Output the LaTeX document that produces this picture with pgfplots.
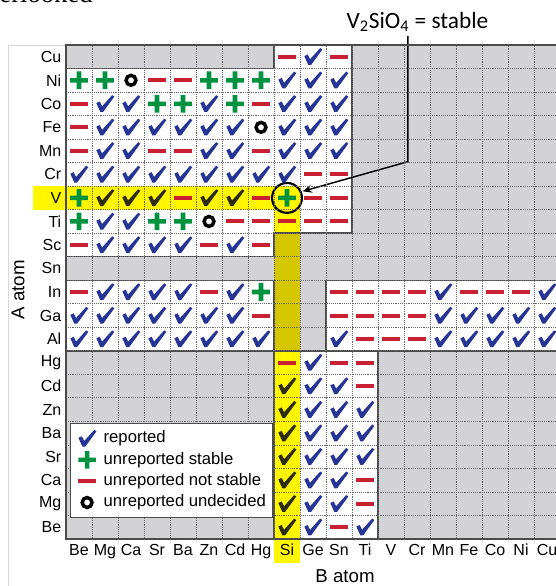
\documentclass[border=0pt]{standalone}
\usepackage{pgfplots}
\usepackage{pgfplotstable}
\pgfplotsset{compat=1.18}
\usepackage{fontspec}
\setmainfont{Liberation Sans}
\newfontfamily\carlito{Carlito}
\newfontfamily\timesfont{Liberation Serif}
\usetikzlibrary{arrows.meta}

\definecolor{cellgray}{RGB}{211,211,213}
\definecolor{bordergray}{RGB}{75,75,75}
\definecolor{gridgray}{RGB}{105,105,105}
\definecolor{framegray}{RGB}{215,215,215}
\definecolor{chkblue}{RGB}{38,52,150}
\definecolor{chkdark}{RGB}{45,45,10}
\definecolor{plgreen}{RGB}{0,146,62}
\definecolor{mnred}{RGB}{202,32,52}
\definecolor{hlyellow}{RGB}{255,246,0}
\definecolor{hlolive}{RGB}{212,199,0}

\pgfdeclareplotmark{chk}{%
  \pgfpathmoveto{\pgfqpoint{-6.5pt}{0.5pt}}%
  \pgfpathlineto{\pgfqpoint{-4.0pt}{1.7pt}}%
  \pgfpathlineto{\pgfqpoint{-2.2pt}{-1.9pt}}%
  \pgfpathlineto{\pgfqpoint{5.4pt}{6.5pt}}%
  \pgfpathlineto{\pgfqpoint{7.0pt}{5.4pt}}%
  \pgfpathlineto{\pgfqpoint{-1.4pt}{-6.1pt}}%
  \pgfpathlineto{\pgfqpoint{-3.5pt}{-6.1pt}}%
  \pgfpathclose
  \pgfusepathqfill}
\pgfdeclareplotmark{pls}{%
  \pgfpathrectangle{\pgfqpoint{-6.6pt}{-1.7pt}}{\pgfqpoint{13.2pt}{3.4pt}}%
  \pgfpathrectangle{\pgfqpoint{-1.7pt}{-6.6pt}}{\pgfqpoint{3.4pt}{13.2pt}}%
  \pgfusepathqfill}
\pgfdeclareplotmark{mns}{%
  \pgfpathrectangle{\pgfqpoint{-6.75pt}{-1.5pt}}{\pgfqpoint{13.5pt}{3.0pt}}%
  \pgfusepathqfill}
\pgfdeclareplotmark{rng}{%
  \pgfsetlinewidth{2.6pt}%
  \pgfpathcircle{\pgfpointorigin}{3.7pt}%
  \pgfusepathqstroke}

% reported (blue check)
\pgfplotstableread{
x y
9 20
8 19
9 19
10 19
1 18
2 18
5 18
8 18
9 18
10 18
1 17
2 17
3 17
4 17
5 17
6 17
8 17
9 17
10 17
1 16
2 16
5 16
6 16
8 16
9 16
10 16
0 15
1 15
2 15
3 15
4 15
5 15
6 15
7 15
8 15
1 13
2 13
1 12
2 12
3 12
4 12
6 12
1 10
2 10
3 10
4 10
6 10
14 10
18 10
0 9
1 9
2 9
3 9
4 9
5 9
6 9
14 9
15 9
16 9
17 9
18 9
0 8
1 8
2 8
3 8
4 8
5 8
6 8
7 8
10 8
14 8
15 8
16 8
17 8
18 8
9 7
9 6
10 6
9 5
10 5
11 5
9 4
10 4
11 4
9 3
10 3
11 3
9 2
10 2
9 1
10 1
9 0
11 0
}\reported

% reported, inside the yellow highlight
\pgfplotstableread{
x y
1 14
2 14
3 14
5 14
6 14
8 6
8 5
8 4
8 3
8 2
8 1
8 0
}\reportedhl

% unreported stable
\pgfplotstableread{
x y
0 19
1 19
5 19
6 19
7 19
3 18
4 18
6 18
0 14
8 14
0 13
3 13
4 13
7 10
}\stable

% unreported not stable
\pgfplotstableread{
x y
8 20
10 20
3 19
4 19
0 18
7 18
0 17
0 16
3 16
4 16
7 16
9 15
10 15
4 14
7 14
9 14
10 14
6 13
7 13
8 13
9 13
10 13
0 12
5 12
7 12
0 10
5 10
10 10
11 10
12 10
13 10
15 10
16 10
17 10
7 9
10 9
11 9
12 9
13 9
11 8
12 8
13 8
8 7
10 7
11 7
11 6
11 2
11 1
10 0
}\unstable

% unreported undecided
\pgfplotstableread{
x y
2 19
7 17
5 13
}\undecided

\begin{document}
\begin{tikzpicture}
\draw[color=framegray, line width=0.6pt] (6pt,0pt) -- (6pt,405.75pt) -- (49.5pt,405.75pt);
\node[anchor=base east, font=\timesfont\fontsize{20}{24}\selectfont, inner sep=0pt] at (69.75pt,437.5pt) {overlooked};
\begin{axis}[
  at={(49.5pt,35.25pt)}, anchor=south west,
  scale only axis, width=370.5pt, height=370.5pt,
  xmin=-0.5, xmax=18.5, ymin=-0.5, ymax=20.5,
  clip=false, axis on top,
  axis background/.style={fill=cellgray},
  axis line style={draw=bordergray, line width=1.1pt},
  xtick={0,...,18},
  xticklabels={Be,Mg,Ca,Sr,Ba,Zn,Cd,Hg,Si,Ge,Sn,Ti,V,Cr,Mn,Fe,Co,Ni,Cu},
  ytick={0,...,20},
  yticklabels={Be,Mg,Ca,Sr,Ba,Zn,Cd,Hg,Al,Ga,In,Sn,Sc,Ti,V,Cr,Mn,Fe,Co,Ni,Cu},
  minor xtick={-0.5,0.5,...,18.5},
  minor ytick={-0.5,0.5,...,20.5},
  xminorgrids, yminorgrids,
  minor grid style={densely dotted, draw=gridgray, line width=0.6pt},
  major tick length=0pt, minor tick length=0pt,
  tick label style={font=\fontsize{12}{14}\selectfont},
  xticklabel style={text height=9pt, text depth=2.5pt},
  xlabel={B atom}, ylabel={A atom},
  every axis x label/.style={at={(axis description cs:0.5648,-0.075)}, anchor=center, font=\fontsize{14}{16}\selectfont},
  every axis y label/.style={at={(axis description cs:-0.0972,0.5045)}, anchor=center, rotate=90, font=\fontsize{14}{16}\selectfont},
  legend image code/.code={\path (0cm,0cm) (0.64cm,0cm);\draw[mark repeat=2,mark phase=2,#1] plot coordinates {(0cm,0cm)(0.3cm,0cm)(0.6cm,0cm)};},
  legend style={at={(axis description cs:0.0081,0.2351)}, anchor=north west,
    draw=bordergray, line width=1.1pt, fill=white,
    font=\fontsize{12.5}{15}\selectfont, inner xsep=3.2pt, inner ysep=3.2pt, row sep=0pt,
    nodes={text height=9pt, text depth=2.6pt, inner sep=2.2pt},
    cells={anchor=west}},
]
% white blocks
\addplot[fill=white, draw=none, forget plot] coordinates {(-0.5,11.5) (7.5,11.5) (7.5,12.5) (10.5,12.5) (10.5,20.5) (7.5,20.5) (7.5,19.5) (-0.5,19.5)} -- cycle;
\addplot[fill=white, draw=none, forget plot] coordinates {(-0.5,7.5) (7.5,7.5) (7.5,10.5) (-0.5,10.5)} -- cycle;
\addplot[fill=white, draw=none, forget plot] coordinates {(9.5,7.5) (18.5,7.5) (18.5,10.5) (9.5,10.5)} -- cycle;
\addplot[fill=white, draw=none, forget plot] coordinates {(7.5,-0.5) (11.5,-0.5) (11.5,7.5) (7.5,7.5)} -- cycle;
% yellow highlight
\addplot[fill=hlyellow, draw=none, forget plot] coordinates {(7.5,-1.52) (8.5,-1.52) (8.5,14.5) (7.5,14.5)} -- cycle;
\addplot[fill=hlyellow, draw=none, forget plot] coordinates {(-1.77,13.5) (8.5,13.5) (8.5,14.5) (-1.77,14.5)} -- cycle;
\addplot[fill=hlolive, draw=none, forget plot] coordinates {(7.5,7.5) (8.5,7.5) (8.5,12.5) (7.5,12.5)} -- cycle;
% block borders
\addplot[draw=bordergray, line width=1.1pt, forget plot] coordinates {(-0.5,11.5) (7.5,11.5) (7.5,12.5) (10.5,12.5) (10.5,20.5) (7.5,20.5) (7.5,19.5) (-0.5,19.5)} -- cycle;
\addplot[draw=bordergray, line width=1.1pt, forget plot] coordinates {(-0.5,7.5) (7.5,7.5) (7.5,10.5) (-0.5,10.5)} -- cycle;
\addplot[draw=bordergray, line width=1.1pt, forget plot] coordinates {(9.5,7.5) (18.5,7.5) (18.5,10.5) (9.5,10.5)} -- cycle;
\addplot[draw=bordergray, line width=1.1pt, forget plot] coordinates {(7.5,-0.5) (11.5,-0.5) (11.5,7.5) (7.5,7.5)} -- cycle;
% symbols
\addplot[only marks, mark=chk, color=chkblue] table {\reported};
\addlegendentry{reported}
\addplot[only marks, mark=pls, color=plgreen] table {\stable};
\addlegendentry{unreported stable}
\addplot[only marks, mark=mns, color=mnred] table {\unstable};
\addlegendentry{unreported not stable}
\addplot[only marks, mark=rng, color=black] table {\undecided};
\addlegendentry{unreported undecided}
\addplot[only marks, mark=chk, color=chkdark, forget plot] table {\reportedhl};
% annotation
\draw[line width=1.6pt] (axis cs:8,14) circle[radius=11.2pt];
\draw[line width=1.1pt, -{Stealth[length=7pt,width=6pt]}] (axis cs:12.65,20.88) -- (axis cs:12.65,15.54) -- (axis cs:8.6,14.28);
\node[anchor=base, inner sep=0pt, font=\carlito\fontsize{17.5}{20}\selectfont] at (axis cs:13.02,21.2) {V\textsubscript{2}SiO\textsubscript{4} = stable};
\end{axis}
\pgfresetboundingbox
\useasboundingbox (0pt,0pt) rectangle (417pt,439.5pt);
\end{tikzpicture}
\end{document}
